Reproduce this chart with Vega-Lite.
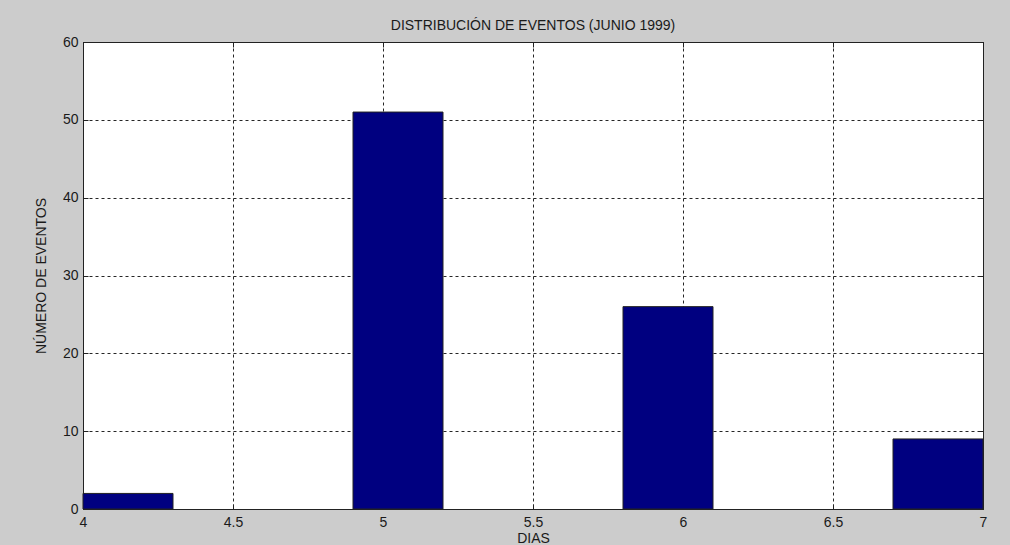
{
  "$schema": "https://vega.github.io/schema/vega-lite/v6.json",
  "autosize": "none",
  "width": 900,
  "height": 467,
  "padding": {"left": 83, "top": 42, "right": 27, "bottom": 36},
  "background": "#cccccc",
  "title": {
    "text": "DISTRIBUCIÓN DE EVENTOS (JUNIO 1999)",
    "font": "Liberation Sans",
    "fontSize": 14,
    "fontWeight": "normal",
    "color": "#1a1a1a",
    "anchor": "middle",
    "baseline": "bottom",
    "offset": -12
  },
  "config": {
    "view": {"fill": "white", "stroke": "#222222", "strokeWidth": 1},
    "axis": {
      "labelFont": "Liberation Sans",
      "labelFontSize": 14,
      "labelColor": "#1a1a1a",
      "titleFont": "Liberation Sans",
      "titleFontSize": 14,
      "titleFontWeight": "normal",
      "titleColor": "#1a1a1a",
      "domainColor": "#222222",
      "tickColor": "#222222",
      "gridColor": "#000000",
      "gridOpacity": 0.85,
      "gridDash": [3, 3],
      "gridWidth": 1
    }
  },
  "data": {
    "values": [
      {"start": 4.0, "end": 4.3, "eventos": 2},
      {"start": 4.9, "end": 5.2, "eventos": 51},
      {"start": 5.8, "end": 6.1, "eventos": 26},
      {"start": 6.7, "end": 7.0, "eventos": 9}
    ]
  },
  "layer": [
    {
      "mark": {"type": "rect", "fill": "#000080", "stroke": "#222222", "strokeWidth": 1},
      "encoding": {
        "x": {
          "field": "start", "type": "quantitative",
          "scale": {"domain": [4, 7], "nice": false, "zero": false},
          "axis": {
            "title": "DIAS",
            "values": [4, 4.5, 5, 5.5, 6, 6.5, 7],
            "format": "~g",
            "grid": true,
            "tickSize": -5,
            "labelPadding": 11,
            "titlePadding": 2,
            "labelFlush": false
          }
        },
        "x2": {"field": "end"},
        "y": {
          "field": "eventos", "type": "quantitative",
          "scale": {"domain": [0, 60], "nice": false},
          "axis": {
            "title": "NÚMERO DE EVENTOS",
            "values": [0, 10, 20, 30, 40, 50, 60],
            "grid": true,
            "tickSize": -5,
            "labelPadding": 10,
            "titlePadding": 14,
            "labelFlush": false
          }
        },
        "y2": {"datum": 0}
      }
    },
    {
      "mark": {"type": "point", "opacity": 0},
      "encoding": {
        "x": {
          "field": "start", "type": "quantitative",
          "scale": {"domain": [4, 7], "nice": false, "zero": false},
          "axis": {"orient": "top", "title": null, "labels": false, "grid": false, "tickSize": -5, "minExtent": 0, "maxExtent": 0, "values": [4, 4.5, 5, 5.5, 6, 6.5, 7]}
        },
        "y": {
          "field": "eventos", "type": "quantitative",
          "scale": {"domain": [0, 60], "nice": false},
          "axis": {"orient": "right", "title": null, "labels": false, "grid": false, "tickSize": -5, "minExtent": 0, "maxExtent": 0, "values": [0, 10, 20, 30, 40, 50, 60]}
        }
      }
    }
  ],
  "resolve": {"axis": {"x": "independent", "y": "independent"}}
}
